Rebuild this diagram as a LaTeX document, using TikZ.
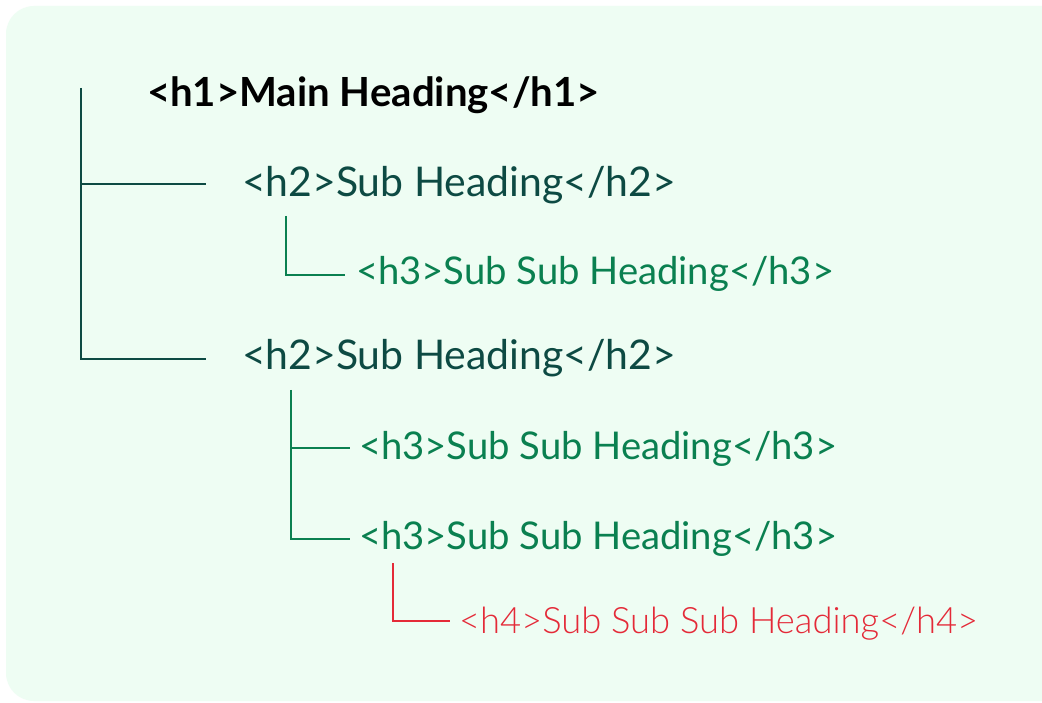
\documentclass[tikz,border=0pt]{standalone}
\usepackage{fontspec}
\setmainfont{Lato}
\newfontfamily\lightfont{Lato Light}
\definecolor{bgc}{HTML}{EEFDF3}
\definecolor{dteal}{HTML}{0D4A43}
\definecolor{mgreen}{HTML}{0A8050}
\definecolor{hred}{HTML}{E42A38}
\tikzset{
  lbl/.style={anchor=base west, inner sep=0pt, outer sep=0pt},
  tree/.style={line width=2.5pt},
}
\newcommand{\fitw}[2]{\resizebox{#1}{!}{#2}}
\begin{document}
\begin{tikzpicture}[x=1pt,y=-1pt]
\useasboundingbox (0,0) rectangle (1042,703);
\clip (0,0) rectangle (1042,703);
\fill[white] (0,0) rectangle (1042,703);
\fill[bgc, rounded corners=28pt] (6,6) rectangle (1075,701);

% labels
\node[lbl] (h1) at (147,107) {\fitw{453pt}{\bfseries <h1>Main Heading</h1>}};
\node[lbl, text=dteal] (h2a) at (242,197) {\fitw{434pt}{<h2>Sub Heading</h2>}};
\node[lbl, text=mgreen] (h3a) at (356,285) {\fitw{478pt}{<h3>Sub Sub Heading</h3>}};
\node[lbl, text=dteal] (h2b) at (242,370) {\fitw{434pt}{<h2>Sub Heading</h2>}};
\node[lbl, text=mgreen] (h3b) at (359,459) {\fitw{478pt}{<h3>Sub Sub Heading</h3>}};
\node[lbl, text=mgreen] (h3c) at (359,549.5) {\fitw{478pt}{<h3>Sub Sub Heading</h3>}};
\node[lbl, text=hred] (h4a) at (459,633) {\fitw{519pt}{\lightfont <h4>Sub Sub Sub Heading</h4>}};

% tree coordinates
\coordinate (r0) at (81,88);
\coordinate (r1) at (206,184);
\coordinate (r2) at (206,359);
\coordinate (s0) at (286,216);
\coordinate (s1) at (345,275);
\coordinate (u0) at (291,390);
\coordinate (u1) at (350,448);
\coordinate (u2) at (350,539);
\coordinate (v0) at (393,563);
\coordinate (v1) at (450,621);

\draw[tree, dteal] (r0) |- (r2);
\draw[tree, dteal] (r0 |- r1) -- (r1);
\draw[tree, mgreen] (s0) |- (s1);
\draw[tree, mgreen] (u0) |- (u2);
\draw[tree, mgreen] (u0 |- u1) -- (u1);
\draw[tree, hred] (v0) |- (v1);
\end{tikzpicture}
\end{document}
